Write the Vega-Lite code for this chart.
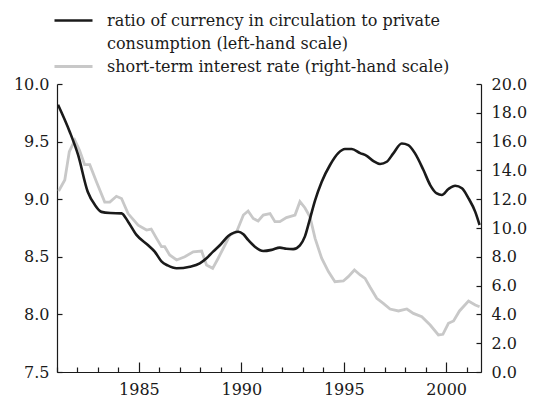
{
  "$schema": "https://vega.github.io/schema/vega-lite/v6.json",
  "width": 424,
  "height": 288,
  "autosize": {"type": "none"},
  "padding": {"left": 57, "top": 84, "right": 54, "bottom": 29},
  "background": "white",
  "config": {
    "font": "DejaVu Serif",
    "view": {"stroke": null},
    "axis": {
      "labelFont": "DejaVu Serif",
      "labelFontSize": 16,
      "labelColor": "#1a1a1a",
      "domainColor": "#1a1a1a",
      "domainWidth": 1.2,
      "tickColor": "#1a1a1a",
      "tickWidth": 1.2,
      "grid": false,
      "title": null,
      "labelFlush": false,
      "labelOverlap": false
    },
    "style": {"guide-label": {"lineHeight": 23}}
  },
  "datasets": {
    "ratio": [
      {"year": 1981.05, "ratio": 9.82},
      {"year": 1981.62, "ratio": 9.586},
      {"year": 1982.03, "ratio": 9.384},
      {"year": 1982.5, "ratio": 9.065},
      {"year": 1982.85, "ratio": 8.95},
      {"year": 1983.17, "ratio": 8.89},
      {"year": 1983.6, "ratio": 8.88},
      {"year": 1984.15, "ratio": 8.877},
      {"year": 1984.47, "ratio": 8.805},
      {"year": 1984.88, "ratio": 8.69},
      {"year": 1985.45, "ratio": 8.6},
      {"year": 1985.77, "ratio": 8.545},
      {"year": 1986.1, "ratio": 8.46},
      {"year": 1986.4, "ratio": 8.425},
      {"year": 1986.84, "ratio": 8.4},
      {"year": 1987.49, "ratio": 8.414},
      {"year": 1987.97, "ratio": 8.443},
      {"year": 1988.3, "ratio": 8.487},
      {"year": 1988.62, "ratio": 8.545},
      {"year": 1988.95, "ratio": 8.6},
      {"year": 1989.36, "ratio": 8.68},
      {"year": 1989.85, "ratio": 8.718},
      {"year": 1990.1, "ratio": 8.695},
      {"year": 1990.33, "ratio": 8.646},
      {"year": 1990.66, "ratio": 8.587},
      {"year": 1991.07, "ratio": 8.55},
      {"year": 1991.48, "ratio": 8.56},
      {"year": 1991.88, "ratio": 8.58},
      {"year": 1992.2, "ratio": 8.57},
      {"year": 1992.53, "ratio": 8.567},
      {"year": 1992.86, "ratio": 8.6},
      {"year": 1993.1, "ratio": 8.675},
      {"year": 1993.35, "ratio": 8.83},
      {"year": 1993.6, "ratio": 8.99},
      {"year": 1993.92, "ratio": 9.15},
      {"year": 1994.33, "ratio": 9.297},
      {"year": 1994.73, "ratio": 9.4},
      {"year": 1995.06, "ratio": 9.436},
      {"year": 1995.39, "ratio": 9.436},
      {"year": 1995.8, "ratio": 9.4},
      {"year": 1996.12, "ratio": 9.377},
      {"year": 1996.45, "ratio": 9.33},
      {"year": 1996.77, "ratio": 9.306},
      {"year": 1997.1, "ratio": 9.325},
      {"year": 1997.42, "ratio": 9.398},
      {"year": 1997.83, "ratio": 9.484},
      {"year": 1998.15, "ratio": 9.47},
      {"year": 1998.48, "ratio": 9.398},
      {"year": 1998.89, "ratio": 9.253},
      {"year": 1999.22, "ratio": 9.123},
      {"year": 1999.54, "ratio": 9.05},
      {"year": 1999.79, "ratio": 9.036},
      {"year": 2000.11, "ratio": 9.088},
      {"year": 2000.44, "ratio": 9.117},
      {"year": 2000.77, "ratio": 9.095},
      {"year": 2001.09, "ratio": 9.008},
      {"year": 2001.42, "ratio": 8.89},
      {"year": 2001.63, "ratio": 8.776}
    ],
    "rate": [
      {"year": 1981.08, "rate": 12.57},
      {"year": 1981.38, "rate": 13.33},
      {"year": 1981.6, "rate": 15.3},
      {"year": 1981.87, "rate": 16.1},
      {"year": 1982.1, "rate": 15.4},
      {"year": 1982.35, "rate": 14.4},
      {"year": 1982.6, "rate": 14.4},
      {"year": 1982.93, "rate": 13.2},
      {"year": 1983.33, "rate": 11.8},
      {"year": 1983.58, "rate": 11.8},
      {"year": 1983.9, "rate": 12.2},
      {"year": 1984.15, "rate": 12.05},
      {"year": 1984.47, "rate": 11.0},
      {"year": 1984.96, "rate": 10.2},
      {"year": 1985.37, "rate": 9.86},
      {"year": 1985.6, "rate": 9.93},
      {"year": 1985.86, "rate": 9.28},
      {"year": 1986.1, "rate": 8.7},
      {"year": 1986.26, "rate": 8.7},
      {"year": 1986.5, "rate": 8.13},
      {"year": 1986.84, "rate": 7.78},
      {"year": 1987.24, "rate": 8.0},
      {"year": 1987.65, "rate": 8.35},
      {"year": 1988.06, "rate": 8.4},
      {"year": 1988.3, "rate": 7.43},
      {"year": 1988.6, "rate": 7.2},
      {"year": 1988.87, "rate": 7.9},
      {"year": 1989.2, "rate": 8.82},
      {"year": 1989.44, "rate": 9.51},
      {"year": 1989.77, "rate": 9.74},
      {"year": 1990.1, "rate": 10.9},
      {"year": 1990.33, "rate": 11.18},
      {"year": 1990.58, "rate": 10.66},
      {"year": 1990.82, "rate": 10.49},
      {"year": 1991.07, "rate": 10.9},
      {"year": 1991.4, "rate": 11.0},
      {"year": 1991.64, "rate": 10.44},
      {"year": 1991.88, "rate": 10.44},
      {"year": 1992.2, "rate": 10.72},
      {"year": 1992.62, "rate": 10.9},
      {"year": 1992.86, "rate": 11.83},
      {"year": 1993.1, "rate": 11.41},
      {"year": 1993.35, "rate": 10.78},
      {"year": 1993.6, "rate": 9.28},
      {"year": 1993.92, "rate": 7.9},
      {"year": 1994.25, "rate": 6.97},
      {"year": 1994.57, "rate": 6.27},
      {"year": 1994.98, "rate": 6.32},
      {"year": 1995.22, "rate": 6.62},
      {"year": 1995.52, "rate": 7.08},
      {"year": 1995.8, "rate": 6.74},
      {"year": 1996.04, "rate": 6.5},
      {"year": 1996.28, "rate": 5.9},
      {"year": 1996.61, "rate": 5.12},
      {"year": 1996.93, "rate": 4.77},
      {"year": 1997.26, "rate": 4.375},
      {"year": 1997.67, "rate": 4.24},
      {"year": 1998.08, "rate": 4.375},
      {"year": 1998.4, "rate": 4.07},
      {"year": 1998.81, "rate": 3.84},
      {"year": 1999.22, "rate": 3.26},
      {"year": 1999.62, "rate": 2.57},
      {"year": 1999.84, "rate": 2.62},
      {"year": 2000.11, "rate": 3.38},
      {"year": 2000.36, "rate": 3.54},
      {"year": 2000.65, "rate": 4.24},
      {"year": 2001.09, "rate": 4.93},
      {"year": 2001.42, "rate": 4.65},
      {"year": 2001.63, "rate": 4.53}
    ]
  },
  "layer": [
    {
      "data": {"name": "rate"},
      "mark": {"type": "line", "strokeWidth": 2.8, "interpolate": "linear"},
      "encoding": {
        "x": {
          "field": "year",
          "type": "quantitative",
          "scale": {"domain": [1981, 2001.7], "nice": false, "zero": false},
          "axis": {
            "orient": "bottom",
            "values": [1981, 1982, 1983, 1984, 1986, 1987, 1988, 1989, 1991, 1992, 1993, 1994, 1996, 1997, 1998, 1999, 2001],
            "tickSize": -5,
            "labels": false,
            "domain": false
          }
        },
        "y": {
          "field": "rate",
          "type": "quantitative",
          "scale": {"domain": [0, 20], "nice": false, "zero": false},
          "axis": {
            "orient": "right",
            "values": [0, 2, 4, 6, 8, 10, 12, 14, 16, 18, 20],
            "format": ".1f",
            "tickSize": -5,
            "labelPadding": 15
          }
        },
        "color": {
          "datum": "short-term interest rate (right-hand scale)",
          "type": "nominal",
          "scale": {"range": ["#c8c8c8"]},
          "legend": {
            "orient": "none",
            "legendX": -4,
            "legendY": -38,
            "title": null,
            "padding": 0,
            "symbolType": "stroke",
            "symbolSize": 1444,
            "symbolStrokeWidth": 2.8,
            "labelFont": "DejaVu Serif",
            "labelFontSize": 16,
            "labelColor": "#1a1a1a",
            "labelOffset": 13,
            "labelLimit": 0
          }
        }
      }
    },
    {
      "data": {"name": "ratio"},
      "mark": {"type": "line", "strokeWidth": 2.6, "interpolate": "monotone"},
      "encoding": {
        "x": {
          "field": "year",
          "type": "quantitative",
          "scale": {"domain": [1981, 2001.7], "nice": false, "zero": false},
          "axis": {
            "orient": "bottom",
            "values": [1985, 1990, 1995, 2000],
            "format": "d",
            "tickSize": -10,
            "labelPadding": 19
          }
        },
        "y": {
          "field": "ratio",
          "type": "quantitative",
          "scale": {"domain": [7.5, 10], "nice": false, "zero": false},
          "axis": {
            "orient": "left",
            "values": [7.5, 8, 8.5, 9, 9.5, 10],
            "format": ".1f",
            "tickSize": -5,
            "labelPadding": 13
          }
        },
        "color": {
          "datum": "ratio of currency in circulation to private consumption (left-hand scale)",
          "type": "nominal",
          "scale": {"range": ["#1a1a1a"]},
          "legend": {
            "orient": "none",
            "legendX": -4,
            "legendY": -84,
            "title": null,
            "padding": 0,
            "symbolType": "stroke",
            "symbolSize": 1444,
            "symbolStrokeWidth": 2.6,
            "labelFont": "DejaVu Serif",
            "labelFontSize": 16,
            "labelColor": "#1a1a1a",
            "labelOffset": 13,
            "labelLimit": 0,
            "labelExpr": "['ratio of currency in circulation to private', 'consumption (left-hand scale)']"
          }
        }
      }
    }
  ],
  "resolve": {"scale": {"y": "independent", "color": "independent"}, "axis": {"x": "independent"}}
}
